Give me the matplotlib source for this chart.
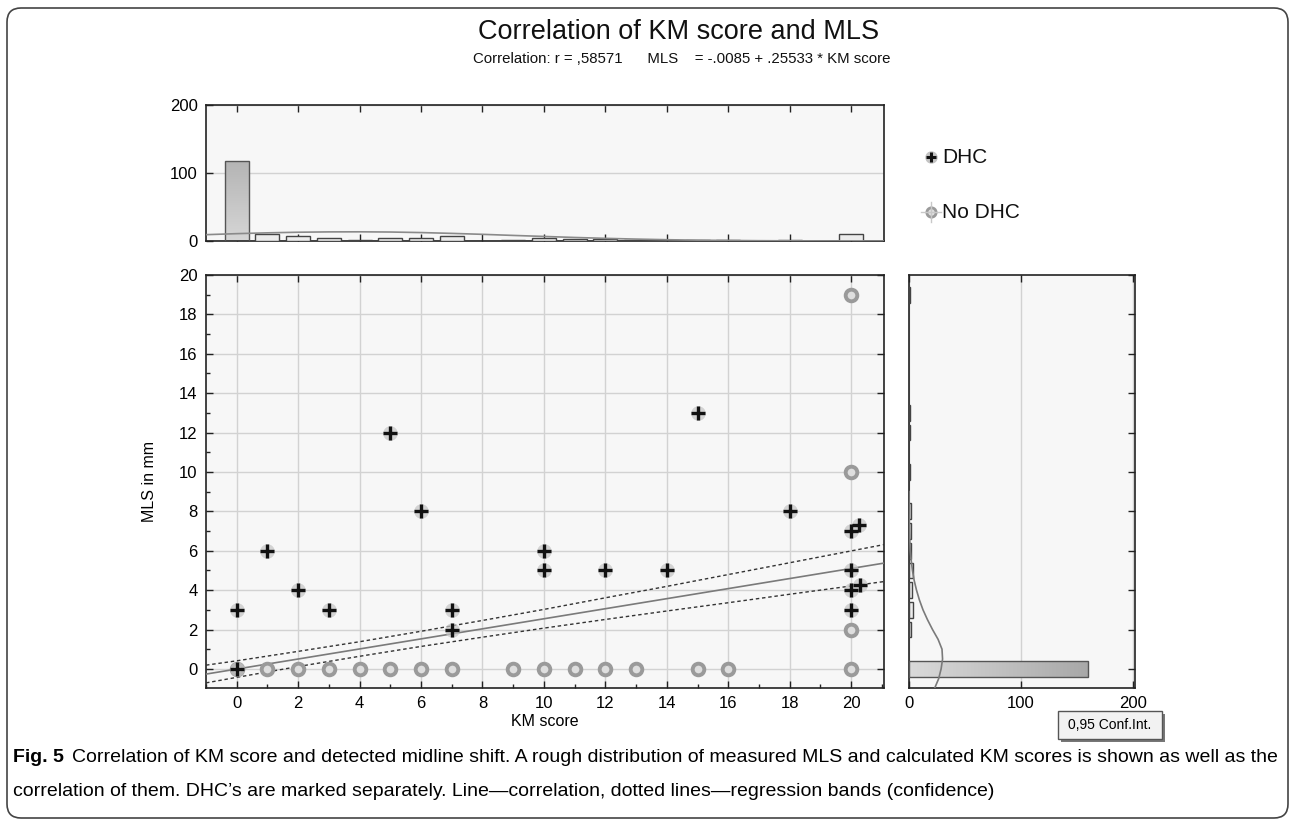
import numpy as np
import matplotlib
matplotlib.use("Agg")
import matplotlib.pyplot as plt
from matplotlib.patches import Rectangle, FancyBboxPatch
from matplotlib.colors import LinearSegmentedColormap
from matplotlib.ticker import MultipleLocator

# scatter data (KM score vs MLS in mm)
dhc_km = [0, 0, 1, 2, 3, 5, 6, 7, 7, 10, 10, 12, 14, 15, 18, 20, 20.25, 20, 20, 20.3, 20]
dhc_mls = [0, 3, 6, 4, 3, 12, 8, 3, 2, 6, 5, 5, 5, 13, 8, 7, 7.3, 5, 4, 4.25, 3]
nodhc_km = [0, 1, 2, 3, 4, 5, 6, 7, 9, 10, 11, 12, 13, 15, 16, 20, 20, 20, 20]
nodhc_mls = [0, 0, 0, 0, 0, 0, 0, 0, 0, 0, 0, 0, 0, 0, 0, 0, 2, 10, 19]

# regression MLS = -.0085 + .25533 * KM score
intercept = -0.0085
slope = 0.25533
reg_x = [-1.0, 21.1]

# 0.95 confidence bands
band_x = [-1, 0, 2, 4, 6, 8, 10, 12, 14, 16, 18, 20, 21.1]
band_hi = [0.19, 0.41, 0.89, 1.38, 1.91, 2.46, 3.02, 3.61, 4.19, 4.79, 5.39, 5.99, 6.32]
band_lo = [-0.71, -0.43, 0.12, 0.64, 1.14, 1.61, 2.07, 2.51, 2.94, 3.36, 3.79, 4.21, 4.44]

# KM score histogram (top)
km_bins = [0, 1, 2, 3, 4, 5, 6, 7, 8, 9, 10, 11, 12, 13, 14, 15, 16, 17, 18, 19, 20]
km_counts = [118, 10, 7, 5, 2, 5, 4, 7, 0, 1, 5, 3, 3, 2, 1, 1, 1, 0, 1, 0, 11]
km_curve_x = [-1, 0, 1, 2, 3, 4, 5, 6, 7, 8, 9, 10, 11, 12, 13, 14, 15, 16, 17, 18, 19, 20, 21.1]
km_curve_y = [9.3, 10.8, 12.0, 12.9, 13.4, 13.5, 13.2, 12.4, 11.2, 9.8, 8.2, 6.7, 5.2, 3.9,
              2.8, 1.9, 1.2, 0.8, 0.45, 0.25, 0.13, 0.06, 0.03]

# MLS histogram (right)
mls_bins = [0, 2, 3, 4, 5, 6, 7, 8, 10, 12, 13, 19]
mls_counts = [160, 2, 4, 3, 4, 2, 2, 2, 1, 1, 1, 1]
mls_curve_y = [-0.97, -0.5, 0, 0.5, 1, 1.5, 2, 2.5, 3, 3.5, 4, 4.5, 5, 5.5, 6, 7, 8, 9]
mls_curve_x = [23, 26.5, 28.7, 30, 29.5, 26, 21, 16.5, 12.5, 9.3, 6.7, 4.6, 3.1, 2, 1.1, 0.35, 0.1, 0.02]

W, H = 1295, 833
fig = plt.figure(figsize=(W / 100, H / 100), dpi=100)
fig.patch.set_facecolor("white")

sans = ["Liberation Sans", "DejaVu Sans"]
bg = "#f7f7f7"
gridc = "#d2d2d2"


def box(l, t, r, b):
    return [l / W, 1 - b / H, (r - l) / W, (b - t) / H]


def style(ax):
    ax.set_facecolor(bg)
    for s in ax.spines.values():
        s.set_color("#222222")
        s.set_linewidth(1.2)
    ax.tick_params(which="both", direction="in", color="#222222", labelsize=12,
                   pad=6, width=1)
    ax.tick_params(which="major", length=5)
    ax.tick_params(which="minor", length=3)
    for lab in ax.get_xticklabels() + ax.get_yticklabels():
        lab.set_family(sans)


def grad_rect(ax, x0, y0, w, h, c1, c2, horizontal):
    cmap = LinearSegmentedColormap.from_list("g", [c1, c2])
    g = np.linspace(0, 1, 128)
    img = g.reshape(1, -1) if horizontal else g.reshape(-1, 1)
    im = ax.imshow(img, extent=(x0, x0 + w, y0, y0 + h), cmap=cmap, aspect="auto",
                   origin="lower", zorder=2, interpolation="bilinear")
    r = Rectangle((x0, y0), w, h, fill=False, ec="#555555", lw=1, zorder=3)
    ax.add_patch(r)
    im.set_clip_path(r)


# top histogram
axt = fig.add_axes(box(206, 105, 884, 241))
xlim = (-1.0, 21.07)
bw = 0.78
for k, c in zip(km_bins, km_counts):
    if c == 0:
        continue
    if c > 50:
        grad_rect(axt, k - bw / 2, 0, bw, c, "#d6d6d6", "#b4b4b4", False)
    else:
        axt.add_patch(Rectangle((k - bw / 2, 0), bw, c, fc="#ececec", ec="#444444", lw=1, zorder=3))
axt.plot(km_curve_x, km_curve_y, color="#8a8a8a", lw=1.2, zorder=4)
axt.set_xlim(*xlim)
axt.set_ylim(0, 200)
axt.set_yticks([0, 100, 200])
axt.xaxis.set_major_locator(MultipleLocator(2))
axt.tick_params(axis="x", top=True, bottom=True, labelbottom=False)
axt.tick_params(axis="y", right=False)
axt.grid(axis="y", color=gridc, lw=1)
axt.set_axisbelow(True)
style(axt)

# scatter
ax = fig.add_axes(box(206, 275, 884, 688))
ax.plot(reg_x, [intercept + slope * x for x in reg_x], color="#7a7a7a", lw=1.2, zorder=3)
ax.plot(band_x, band_hi, color="#333333", lw=1, ls=(0, (2.5, 2)), zorder=3)
ax.plot(band_x, band_lo, color="#333333", lw=1, ls=(0, (2.5, 2)), zorder=3)
ax.scatter(nodhc_km, nodhc_mls, s=70, facecolors="#dedede", edgecolors="#9a9a9a",
           linewidths=2.8, zorder=4)
ax.scatter(dhc_km, dhc_mls, s=110, color="#c4c4c4", alpha=0.7, zorder=5, lw=0)
ax.scatter(dhc_km, dhc_mls, s=100, marker="+", color="#111111", linewidths=2.4, zorder=6)
ax.set_xlim(*xlim)
ax.set_ylim(-0.97, 20)
ax.xaxis.set_major_locator(MultipleLocator(2))
ax.xaxis.set_minor_locator(MultipleLocator(1))
ax.yaxis.set_major_locator(MultipleLocator(2))
ax.yaxis.set_minor_locator(MultipleLocator(1))
ax.tick_params(which="major", top=True, right=True)
ax.tick_params(which="minor", top=False, right=False)
ax.grid(which="major", color=gridc, lw=1)
ax.set_axisbelow(True)
style(ax)

# right histogram
axr = fig.add_axes(box(909, 275, 1135, 688))
bh = 0.8
for m, c in zip(mls_bins, mls_counts):
    if c > 50:
        grad_rect(axr, 0, m - bh / 2, c, bh, "#dadada", "#a8a8a8", True)
    else:
        axr.add_patch(Rectangle((0, m - bh / 2), c, bh, fc="#ececec", ec="#444444", lw=1, zorder=3))
axr.plot(mls_curve_x, mls_curve_y, color="#7a7a7a", lw=1.2, zorder=4)
axr.set_xlim(0, 202)
axr.set_ylim(-0.97, 20)
axr.set_xticks([0, 100, 200])
axr.yaxis.set_major_locator(MultipleLocator(2))
axr.tick_params(axis="y", left=False, right=True, labelleft=False)
axr.tick_params(axis="x", top=True)
axr.grid(axis="x", color=gridc, lw=1)
axr.set_axisbelow(True)
style(axr)

# overlay for texts, legend, caption and frame (pixel coords)
ov = fig.add_axes([0, 0, 1, 1], facecolor="none")
ov.set_xlim(0, W)
ov.set_ylim(H, 0)
ov.axis("off")

ov.add_patch(FancyBboxPatch((7, 8), W - 14, 810, boxstyle="round,pad=0,rounding_size=14",
                            fill=False, ec="#444444", lw=1.2))
ov.text(679, 32, "Correlation of KM score and MLS", ha="center", va="center",
        fontsize=19.5, family=sans, color="#111111")
ov.text(682, 59, "Correlation: r = ,58571      MLS    = -.0085 + .25533 * KM score",
        ha="center", va="center", fontsize=10.8, family=sans, color="#111111")

# legend
ov.scatter([931], [157], s=80, color="#c4c4c4", lw=0)
ov.scatter([931], [157], s=60, marker="+", color="#111111", linewidths=2.2)
ov.text(942, 157, "DHC", va="center", fontsize=15, family=sans, color="#111111")
ov.plot([921, 941], [212, 212], color="#c8c8c8", lw=1)
ov.plot([931, 931], [202, 222], color="#c8c8c8", lw=1)
ov.scatter([931], [212], s=45, facecolors="#e0e0e0", edgecolors="#9a9a9a", linewidths=2)
ov.text(942, 212, "No DHC", va="center", fontsize=15, family=sans, color="#111111")

ov.text(150, 481, "MLS in mm", rotation=90, ha="center", va="center", fontsize=11.5,
        family=sans)
ov.text(545, 721, "KM score", ha="center", va="center", fontsize=11.5, family=sans)

# conf. int. box
ov.add_patch(Rectangle((1061, 714), 104, 28, fc="#777777", ec="none"))
ov.add_patch(Rectangle((1058, 711), 104, 28, fc="#f2f2f2", ec="#555555", lw=1))
ov.text(1110, 725, "0,95 Conf.Int.", ha="center", va="center", fontsize=10, family=sans)

# caption
cap_bold = ov.text(13, 758, "Fig. 5", va="center", fontsize=14, family=sans,
                   weight="bold")
fig.canvas.draw()
x1 = cap_bold.get_window_extent().x1 + 8
ov.text(x1, 758, "Correlation of KM score and detected midline shift. A rough distribution "
        "of measured MLS and calculated KM scores is shown as well as the",
        va="center", fontsize=14, family=sans)
ov.text(13, 792, "correlation of them. DHC\u2019s are marked separately. "
        "Line\u2014correlation, dotted lines\u2014regression bands (confidence)",
        va="center", fontsize=14, family=sans)

fig.savefig("out.png", dpi=100)
